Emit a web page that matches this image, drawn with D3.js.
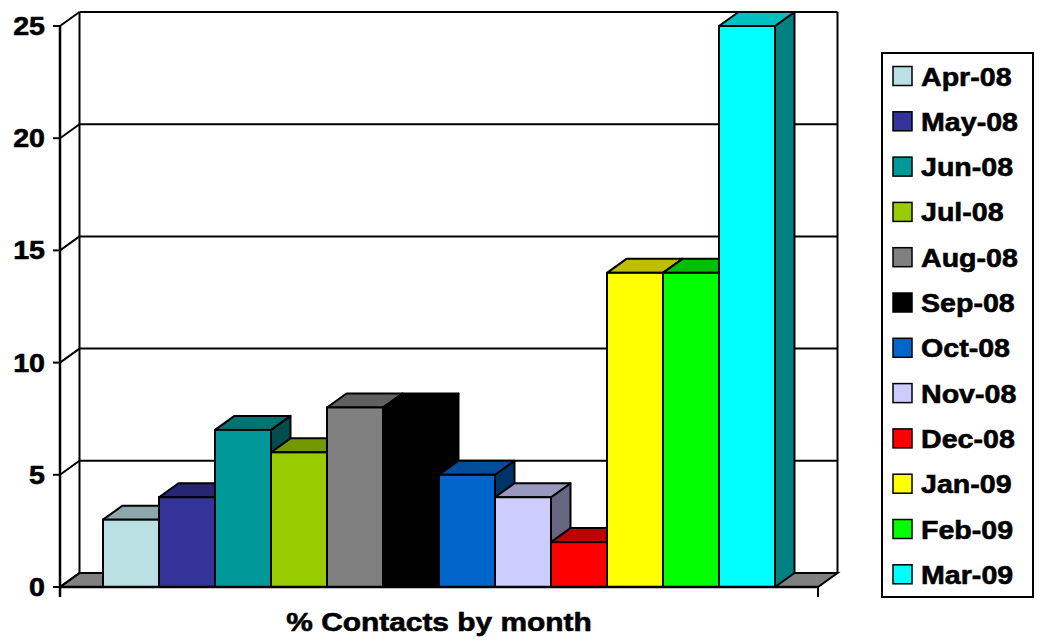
<!DOCTYPE html>
<html>
<head>
<meta charset="utf-8">
<script src="https://cdn.jsdelivr.net/npm/d3@7"></script>
<style>
  body { margin: 0; background: #fff; }
  text { font-family: "Liberation Sans", Arial, sans-serif; font-weight: bold;
         stroke: #000; stroke-width: 0.6px; }
</style>
</head>
<body>
<div id="chart"></div>
<script>
// data
var months = ["Apr-08", "May-08", "Jun-08", "Jul-08", "Aug-08", "Sep-08",
              "Oct-08", "Nov-08", "Dec-08", "Jan-09", "Feb-09", "Mar-09"];
var values = [3, 4, 7, 6, 8, 8, 5, 4, 2, 14, 14, 25];
var colors = ["#BBE0E3", "#333399", "#009999", "#99CC00", "#808080", "#000000",
              "#0066CC", "#CCCCFF", "#FF0000", "#FFFF00", "#00FF00", "#00FFFF"];
var yTicks = [0, 5, 10, 15, 20, 25];
var xTitle = "% Contacts by month";

var width = 1041, height = 641;
var dx = 19.5, dy = -14;   // 3d depth offset
var sx = 1.1;              // text in the picture is a bit stretched

var svg = d3.select("#chart").append("svg")
            .attr("width", width).attr("height", height);

var y = d3.scaleLinear().domain([0, 25]).range([587, 26]);
var x = d3.scaleBand().domain(months).range([60, 818])
          .paddingInner(0).paddingOuter(0.768);
var x0 = 60, x1 = 818;

function shade(c, k) {
  var r = d3.rgb(c);
  return d3.rgb(r.r * k, r.g * k, r.b * k).formatHex();
}

var g = svg.append("g");

// floor
g.append("path")
 .attr("d", d3.line()([[x0, y(0)], [x1, y(0)], [x1 + dx, y(0) + dy], [x0 + dx, y(0) + dy]]) + "Z")
 .attr("fill", "#808080").attr("stroke", "#000").attr("stroke-width", 2);

// back wall gridlines
g.selectAll(".grid").data(yTicks.slice(1)).enter().append("line")
 .attr("x1", x0 + dx).attr("x2", x1 + dx)
 .attr("y1", function(d) { return y(d) + dy; })
 .attr("y2", function(d) { return y(d) + dy; })
 .attr("stroke", "#000").attr("stroke-width", 2);

// back wall edges
g.append("line").attr("x1", x0 + dx).attr("x2", x0 + dx)
 .attr("y1", y(25) + dy).attr("y2", y(0) + dy).attr("stroke", "#000").attr("stroke-width", 2);
g.append("line").attr("x1", x1 + dx).attr("x2", x1 + dx)
 .attr("y1", y(25) + dy).attr("y2", y(0) + dy).attr("stroke", "#000").attr("stroke-width", 2);

// left wall diagonals
g.selectAll(".diag").data(yTicks).enter().append("line")
 .attr("x1", x0).attr("x2", x0 + dx)
 .attr("y1", function(d) { return y(d); })
 .attr("y2", function(d) { return y(d) + dy; })
 .attr("stroke", "#000").attr("stroke-width", 2);

// bars, left to right
var bars = g.selectAll(".bar").data(values).enter().append("g").attr("class", "bar");

bars.append("path") // side
 .attr("d", function(d, i) {
   var xr = x(months[i]) + x.bandwidth();
   return d3.line()([[xr, y(d)], [xr + dx, y(d) + dy], [xr + dx, y(0) + dy], [xr, y(0)]]) + "Z";
 })
 .attr("fill", function(d, i) { return shade(colors[i], 0.5); })
 .attr("stroke", "#000").attr("stroke-width", 2).attr("stroke-linejoin", "round");

bars.append("path") // top
 .attr("d", function(d, i) {
   var xl = x(months[i]), xr = xl + x.bandwidth();
   return d3.line()([[xl, y(d)], [xl + dx, y(d) + dy], [xr + dx, y(d) + dy], [xr, y(d)]]) + "Z";
 })
 .attr("fill", function(d, i) { return shade(colors[i], 0.75); })
 .attr("stroke", "#000").attr("stroke-width", 2).attr("stroke-linejoin", "round");

bars.append("rect") // front
 .attr("x", function(d, i) { return x(months[i]); })
 .attr("y", function(d) { return y(d); })
 .attr("width", x.bandwidth())
 .attr("height", function(d) { return y(0) - y(d); })
 .attr("fill", function(d, i) { return colors[i]; })
 .attr("stroke", "#000").attr("stroke-width", 2);

// front axes
g.append("line").attr("x1", x0).attr("x2", x0).attr("y1", y(25)).attr("y2", y(0) + 10)
 .attr("stroke", "#000").attr("stroke-width", 2.5);
g.append("line").attr("x1", x0).attr("x2", x1).attr("y1", y(0)).attr("y2", y(0))
 .attr("stroke", "#000").attr("stroke-width", 2.5);
g.append("line").attr("x1", x1).attr("x2", x1).attr("y1", y(0)).attr("y2", y(0) + 10)
 .attr("stroke", "#000").attr("stroke-width", 2);

// y ticks + labels
g.selectAll(".tick").data(yTicks).enter().append("line")
 .attr("x1", x0 - 7).attr("x2", x0)
 .attr("y1", function(d) { return y(d); }).attr("y2", function(d) { return y(d); })
 .attr("stroke", "#000").attr("stroke-width", 2);

g.selectAll(".ylab").data(yTicks).enter().append("text")
 .attr("transform", function(d) { return "translate(45," + (y(d) + 9) + ") scale(" + sx + ",1)"; })
 .attr("text-anchor", "end").attr("font-size", 26)
 .text(function(d) { return d; });

// x title
svg.append("text")
 .attr("transform", "translate(439,631) scale(1.15,1)")
 .attr("text-anchor", "middle").attr("font-size", 26)
 .text(xTitle);

// legend
var lg = svg.append("g");
lg.append("rect").attr("x", 882).attr("y", 53).attr("width", 151).attr("height", 544)
  .attr("fill", "#fff").attr("stroke", "#000").attr("stroke-width", 2);

var item = lg.selectAll(".item").data(months).enter().append("g")
  .attr("transform", function(d, i) { return "translate(0," + (76 + i * 45.3) + ")"; });
item.append("rect").attr("x", 893).attr("y", -9.5).attr("width", 19).attr("height", 19)
  .attr("fill", function(d, i) { return colors[i]; })
  .attr("stroke", "#000").attr("stroke-width", 1.5);
item.append("text")
  .attr("transform", "translate(921,9.5) scale(" + sx + ",1)")
  .attr("font-size", 26)
  .text(function(d) { return d; });
</script>
</body>
</html>
